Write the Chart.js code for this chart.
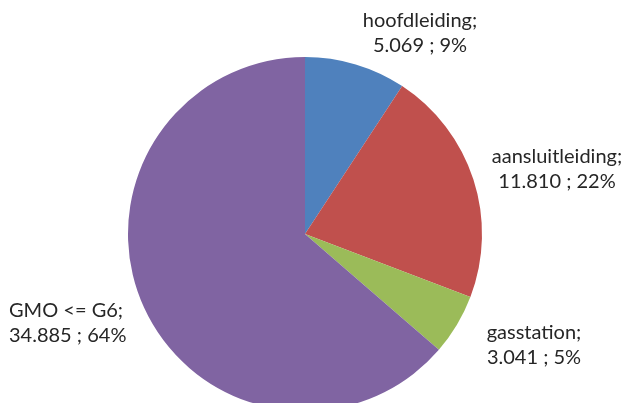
<!DOCTYPE html>
<html>
<head>
<meta charset="utf-8">
<script src="https://cdn.jsdelivr.net/npm/chart.js@4.4.0/dist/chart.umd.min.js"></script>
<style>
  html, body { margin: 0; padding: 0; background: #fff; overflow: hidden; }
  #wrap { width: 632px; height: 420px; }
</style>
</head>
<body>
<div id="wrap"><canvas id="myChart" width="632" height="420"></canvas></div>
<script>
// verdeling per categorie
const categories = ['hoofdleiding', 'aansluitleiding', 'gasstation', 'GMO <= G6'];
const values = [5.069, 11.810, 3.041, 34.885];
const valueText = ['5.069', '11.810', '3.041', '34.885'];
const percentText = ['9%', '22%', '5%', '64%'];
const colors = ['#4F81BD', '#C0504D', '#9BBB59', '#8064A2'];

// plaats van de labels t.o.v. het middelpunt van de taart (dx, dy, uitlijning)
const labelPos = [
    { dx: 115, dy: -201, align: 'center' },
    { dx: 252, dy: -65, align: 'center' },
    { dx: 229, dy: 111, align: 'center' },
    { dx: -296, dy: 89, align: 'left' }
];

const labelPlugin = {
    id: 'sliceLabels',
    afterDatasetsDraw(chart) {
        const ctx = chart.ctx;
        const arcs = chart.getDatasetMeta(0).data;
        ctx.save();
        ctx.font = '20px Lato, "Open Sans", sans-serif';
        ctx.fillStyle = '#262626';
        ctx.textBaseline = 'middle';
        arcs.forEach((arc, i) => {
            const p = labelPos[i];
            const x = arc.x + p.dx;
            const y = arc.y + p.dy;
            ctx.textAlign = p.align;
            ctx.fillText(categories[i] + ';', x, y - 12);
            ctx.fillText(valueText[i] + ' ; ' + percentText[i], x, y + 13);
        });
        ctx.restore();
    }
};

const data = {
    labels: categories,
    datasets: [{
        data: values,
        backgroundColor: colors,
        borderWidth: 0
    }]
};

const config = {
    type: 'pie',
    data: data,
    plugins: [labelPlugin],
    options: {
        responsive: false,
        animation: false,
        layout: {
            padding: { top: 57, bottom: 9, left: 128, right: 150 }
        },
        plugins: {
            legend: { display: false },
            tooltip: { enabled: false }
        }
    }
};

const myChart = new Chart(document.getElementById('myChart'), config);
</script>
</body>
</html>
